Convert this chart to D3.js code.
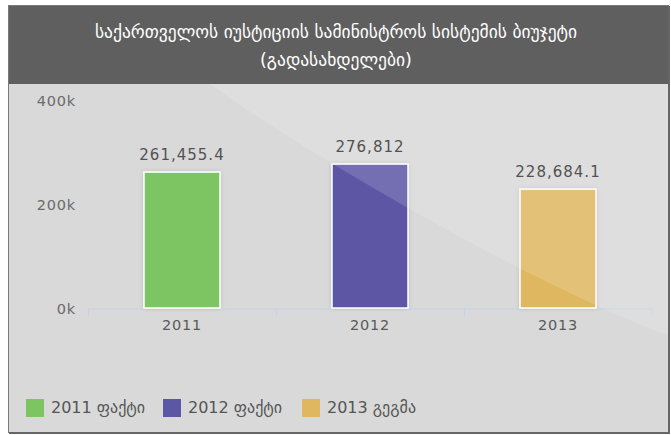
<!DOCTYPE html>
<html>
<head>
<meta charset="utf-8">
<script src="https://cdn.jsdelivr.net/npm/d3@7.9.0/dist/d3.min.js"></script>
<style>
  body { margin: 0; background: #fff; }
  svg { display: block; }
  text { font-family: "DejaVu Sans", sans-serif; }
</style>
</head>
<body>
<svg id="chart" width="671" height="435"></svg>
<script>
// chart data
const titleLines = ["საქართველოს იუსტიციის სამინისტროს სისტემის ბიუჯეტი", "(გადასახდელები)"];
const years = ["2011", "2012", "2013"];
const values = [261455.4, 276812, 228684.1];
const valueLabels = ["261,455.4", "276,812", "228,684.1"];
const legendLabels = ["2011 ფაქტი", "2012 ფაქტი", "2013 გეგმა"];
const colors = ["#7dc462", "#5b57a5", "#dfb760"];
const yTicks = [0, 200000, 400000];

const svg = d3.select("#chart");

// frame
svg.append("rect").attr("x", 8.5).attr("y", 5.5).attr("width", 660).attr("height", 427)
    .attr("fill", "#d9d9d9").attr("stroke", "#7a7a7a");
svg.append("rect").attr("x", 668).attr("y", 6).attr("width", 2).attr("height", 428).attr("fill", "#666");
svg.append("rect").attr("x", 9).attr("y", 432).attr("width", 661).attr("height", 2).attr("fill", "#666");
svg.append("rect").attr("x", 9).attr("y", 6).attr("width", 659).attr("height", 78).attr("fill", "#5f5f5f");

svg.selectAll(".title")
    .data(titleLines)
    .enter()
    .append("text")
    .attr("class", "title")
    .attr("x", 336)
    .attr("y", (d, i) => 38 + i * 28)
    .attr("text-anchor", "middle")
    .attr("fill", "#fff")
    .attr("font-size", 17.5)
    .text(d => d);

// scales
let x = d3.scaleBand().domain(years).range([88, 652]).paddingInner(0).paddingOuter(0);
let y = d3.scaleLinear().domain([0, 400000]).range([308, 100]);

// y axis
let yAxis = svg.append("g")
    .attr("transform", "translate(76,0)")
    .call(d3.axisLeft(y).tickValues(yTicks).tickSize(0).tickPadding(0).tickFormat(d => (d / 1000) + "k"));
yAxis.select(".domain").remove();
yAxis.selectAll("text")
    .attr("font-family", "DejaVu Sans")
    .attr("font-size", 14.5)
    .attr("letter-spacing", 0.8)
    .attr("fill", "#6b6b6b")
    .attr("dy", "0.4em");

// x axis
let xAxis = svg.append("g")
    .attr("transform", "translate(0,308.5)")
    .call(d3.axisBottom(x).tickSize(0).tickPadding(11));
xAxis.select(".domain").attr("stroke", "#c2d3e6").attr("stroke-width", 1);
xAxis.selectAll("text")
    .attr("font-family", "DejaVu Sans")
    .attr("font-size", 14.5)
    .attr("letter-spacing", 0.8)
    .attr("fill", "#5a5a5a");

let bounds = years.map(d => x(d)).concat([x.range()[1]]);
xAxis.selectAll(".bound")
    .data(bounds)
    .enter()
    .append("line")
    .attr("class", "bound")
    .attr("x1", d => d + 0.5).attr("x2", d => d + 0.5)
    .attr("y1", 0).attr("y2", 7)
    .attr("stroke", "#c2d3e6");

// bars
let barW = 76;
let defs = svg.append("defs");
let f = defs.append("filter").attr("id", "shadow").attr("x", "-20%").attr("y", "-20%").attr("width", "140%").attr("height", "140%");
f.append("feDropShadow").attr("dx", 0).attr("dy", 0).attr("stdDeviation", 2).attr("flood-color", "#000").attr("flood-opacity", 0.12);

svg.selectAll(".bar")
    .data(values)
    .enter()
    .append("rect")
    .attr("class", "bar")
    .attr("x", (d, i) => x(years[i]) + x.bandwidth() / 2 - barW / 2)
    .attr("y", d => y(d))
    .attr("width", barW)
    .attr("height", d => y(0) - y(d))
    .attr("fill", (d, i) => colors[i])
    .attr("stroke", "#fff")
    .attr("stroke-width", 1.5)
    .attr("filter", "url(#shadow)");

// gloss overlay
defs.append("clipPath").attr("id", "plotClip")
    .append("rect").attr("x", 9).attr("y", 84).attr("width", 659).attr("height", 348);
svg.append("path")
    .attr("d", "M210,84 C300,149 519,279 669,336 L669,84 Z")
    .attr("fill", "#fff")
    .attr("opacity", 0.15)
    .attr("clip-path", "url(#plotClip)");

// value labels
svg.selectAll(".val")
    .data(values)
    .enter()
    .append("text")
    .attr("class", "val")
    .attr("x", (d, i) => x(years[i]) + x.bandwidth() / 2)
    .attr("y", d => y(d) - 12)
    .attr("text-anchor", "middle")
    .attr("font-size", 15)
    .attr("letter-spacing", 1)
    .attr("fill", "#525252")
    .text((d, i) => valueLabels[i]);

// legend
let legend = svg.append("g").attr("class", "legend");
let legendX = [26, 163, 302];
let items = legend.selectAll("g")
    .data(legendLabels)
    .enter()
    .append("g")
    .attr("transform", (d, i) => `translate(${legendX[i]},399)`);
items.append("rect")
    .attr("width", 18).attr("height", 18)
    .attr("fill", (d, i) => colors[i]);
items.append("text")
    .attr("x", 25)
    .attr("y", 14)
    .attr("font-family", "Liberation Serif, DejaVu Sans, serif")
    .attr("font-size", 16)
    .attr("fill", "#555")
    .text(d => d);
</script>
</body>
</html>
